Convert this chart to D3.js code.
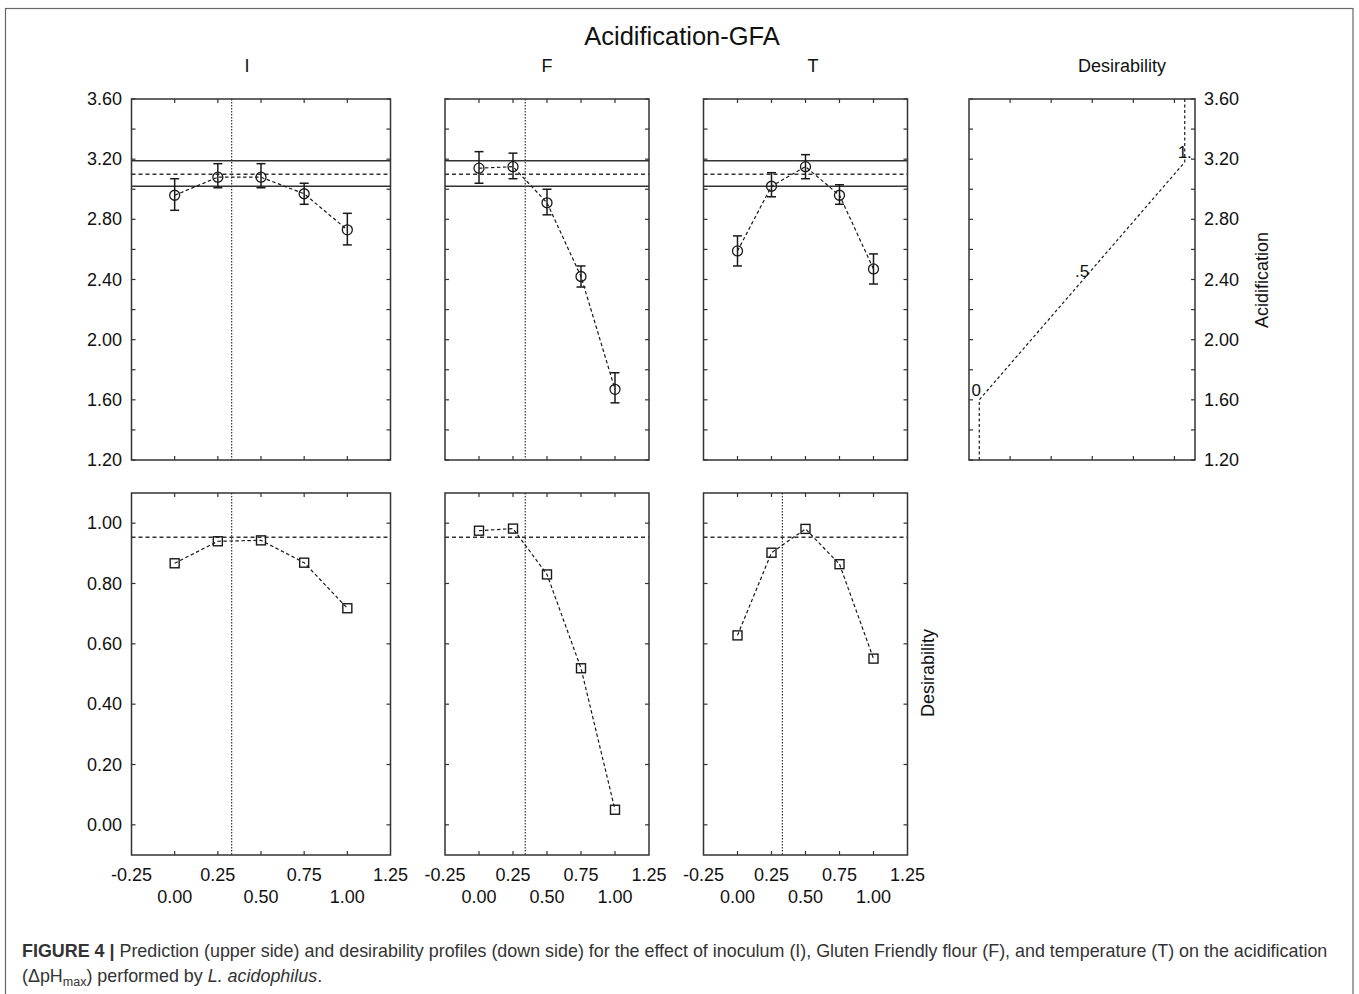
<!DOCTYPE html>
<html>
<head>
<meta charset="utf-8">
<script src="https://cdn.jsdelivr.net/npm/d3@7"></script>
<style>
  html, body { margin: 0; padding: 0; background: #fff; }
  svg { display: block; font-family: "Liberation Sans", Arial, sans-serif; }
</style>
</head>
<body>
<svg id="chart" width="1359" height="994"></svg>
<script>
// ---------------- data ----------------
const factors = ["I", "F", "T"];
const xLevels = [0, 0.25, 0.5, 0.75, 1.0];
const currentX = [0.33, 0.34, 0.33];
const showTopCurrent = [true, true, false];

const acidI = [2.96, 3.08, 3.08, 2.97, 2.73];
const acidILo = [2.86, 3.01, 3.01, 2.90, 2.63];
const acidIHi = [3.07, 3.17, 3.17, 3.04, 2.84];

const acidF = [3.14, 3.15, 2.91, 2.42, 1.67];
const acidFLo = [3.04, 3.07, 2.83, 2.35, 1.58];
const acidFHi = [3.25, 3.24, 3.00, 2.49, 1.78];

const acidT = [2.59, 3.02, 3.15, 2.96, 2.47];
const acidTLo = [2.49, 2.95, 3.07, 2.90, 2.37];
const acidTHi = [2.69, 3.11, 3.23, 3.03, 2.57];

const desI = [0.867, 0.940, 0.943, 0.869, 0.718];
const desF = [0.975, 0.982, 0.830, 0.519, 0.050];
const desT = [0.628, 0.902, 0.981, 0.864, 0.551];

const predicted = 3.10, predLo = 3.02, predHi = 3.19;
const overallDes = 0.953;

// desirability function (acidification -> desirability)
const dfAcid = [1.2, 1.6, 3.18, 3.6];
const dfDes = [0, 0, 1, 1];
const dfLabels = [{d: 0, a: 1.6, t: "0"}, {d: 0.5, a: 2.39, t: ".5"}, {d: 1, a: 3.18, t: "1."}];
const dfTicks = [0.15, 0.35, 0.55, 0.75, 0.95];

const acidTicks = [1.2, 1.6, 2.0, 2.4, 2.8, 3.2, 3.6];
const desTicks = [0, 0.2, 0.4, 0.6, 0.8, 1.0];
const xTickRow1 = [-0.25, 0.25, 0.75, 1.25];
const xTickRow2 = [0, 0.5, 1.0];

const acidSeries = [acidI, acidF, acidT];
const acidLoSeries = [acidILo, acidFLo, acidTLo];
const acidHiSeries = [acidIHi, acidFHi, acidTHi];
const desSeries = [desI, desF, desT];

// ---------------- layout ----------------
const svg = d3.select("#chart");
const ink = "#1a1a1a";
const panelX = [[131.5, 390.5], [445, 649], [703.5, 907.5]];
const titleX = [247, 547, 813];
const topY = [99, 460], botY = [493, 855];
const dPanelX = [969, 1195];
const fmt = v => v.toFixed(2);

const yAcid = d3.scaleLinear().domain([1.2, 3.6]).range([topY[1], topY[0]]);
const yDes = d3.scaleLinear().domain([-0.1, 1.1]).range([botY[1], botY[0]]);
const minorAcid = d3.range(1.2, 3.61, 0.2);
const minorDes = d3.range(0, 1.01, 0.2);

// outer frame
svg.append("rect").attr("x", 5.5).attr("y", 8.5).attr("width", 1347.5).attr("height", 1000)
  .attr("fill", "none").attr("stroke", "#666").attr("stroke-width", 1.2);

// title
svg.append("text").attr("x", 682).attr("y", 45).attr("text-anchor", "middle")
  .attr("font-size", 25.5).attr("fill", "#111").text("Acidification-GFA");

function frame(g, x0, x1, y0, y1) {
  g.append("rect").attr("x", x0).attr("y", y0).attr("width", x1 - x0).attr("height", y1 - y0)
    .attr("fill", "none").attr("stroke", "#333").attr("stroke-width", 1.5);
}
function ticksInside(g, xs, ys, x0, x1, y0, y1) {
  const L = 4;
  xs.forEach(x => {
    g.append("line").attr("x1", x).attr("x2", x).attr("y1", y0).attr("y2", y0 + L).attr("stroke", "#333").attr("stroke-width", 1.2);
    g.append("line").attr("x1", x).attr("x2", x).attr("y1", y1).attr("y2", y1 - L).attr("stroke", "#333").attr("stroke-width", 1.2);
  });
  ys.forEach(y => {
    g.append("line").attr("x1", x0).attr("x2", x0 + L).attr("y1", y).attr("y2", y).attr("stroke", "#333").attr("stroke-width", 1.2);
    g.append("line").attr("x1", x1).attr("x2", x1 - L).attr("y1", y).attr("y2", y).attr("stroke", "#333").attr("stroke-width", 1.2);
  });
}

factors.forEach((f, i) => {
  const [x0, x1] = panelX[i];
  const xs = d3.scaleLinear().domain([-0.25, 1.25]).range([x0, x1]);
  const g = svg.append("g");

  // panel title
  g.append("text").attr("x", titleX[i]).attr("y", 72).attr("text-anchor", "middle")
    .attr("font-size", 18).attr("fill", "#111").text(f);

  // ---- top panel ----
  [predHi, predLo].forEach(v => g.append("line").attr("x1", x0).attr("x2", x1)
    .attr("y1", yAcid(v)).attr("y2", yAcid(v)).attr("stroke", "#333").attr("stroke-width", 1.5));
  g.append("line").attr("x1", x0).attr("x2", x1).attr("y1", yAcid(predicted)).attr("y2", yAcid(predicted))
    .attr("stroke", "#333").attr("stroke-width", 1.5).attr("stroke-dasharray", "4,3");
  if (showTopCurrent[i]) {
    g.append("line").attr("x1", xs(currentX[i])).attr("x2", xs(currentX[i]))
      .attr("y1", topY[0]).attr("y2", topY[1]).attr("stroke", "#333").attr("stroke-width", 1.2).attr("stroke-dasharray", "1.5,1.5");
  }
  const line = d3.line().x(d => xs(d[0])).y(d => d[1]);
  g.append("path").datum(xLevels.map((x, k) => [x, yAcid(acidSeries[i][k])]))
    .attr("d", line).attr("fill", "none").attr("stroke", ink).attr("stroke-width", 1.2).attr("stroke-dasharray", "3.5,2.5");
  xLevels.forEach((x, k) => {
    const cx = xs(x);
    const lo = yAcid(acidLoSeries[i][k]), hi = yAcid(acidHiSeries[i][k]);
    g.append("line").attr("x1", cx).attr("x2", cx).attr("y1", lo).attr("y2", hi).attr("stroke", ink).attr("stroke-width", 1.5);
    [lo, hi].forEach(y => g.append("line").attr("x1", cx - 4.5).attr("x2", cx + 4.5).attr("y1", y).attr("y2", y)
      .attr("stroke", ink).attr("stroke-width", 1.5));
    g.append("circle").attr("cx", cx).attr("cy", yAcid(acidSeries[i][k])).attr("r", 5)
      .attr("fill", "none").attr("stroke", ink).attr("stroke-width", 1.3);
  });
  frame(g, x0, x1, topY[0], topY[1]);
  ticksInside(g, xLevels.map(xs), minorAcid.map(yAcid), x0, x1, topY[0], topY[1]);

  // ---- bottom panel ----
  g.append("line").attr("x1", x0).attr("x2", x1).attr("y1", yDes(overallDes)).attr("y2", yDes(overallDes))
    .attr("stroke", "#333").attr("stroke-width", 1.5).attr("stroke-dasharray", "4,3");
  g.append("line").attr("x1", xs(currentX[i])).attr("x2", xs(currentX[i]))
    .attr("y1", botY[0]).attr("y2", botY[1]).attr("stroke", "#333").attr("stroke-width", 1.2).attr("stroke-dasharray", "1.5,1.5");
  g.append("path").datum(xLevels.map((x, k) => [x, yDes(desSeries[i][k])]))
    .attr("d", line).attr("fill", "none").attr("stroke", ink).attr("stroke-width", 1.2).attr("stroke-dasharray", "3.5,2.5");
  xLevels.forEach((x, k) => {
    g.append("rect").attr("x", xs(x) - 4.5).attr("y", yDes(desSeries[i][k]) - 4.5)
      .attr("width", 9).attr("height", 9).attr("fill", "none").attr("stroke", ink).attr("stroke-width", 1.4);
  });
  frame(g, x0, x1, botY[0], botY[1]);
  ticksInside(g, xLevels.map(xs), minorDes.map(yDes), x0, x1, botY[0], botY[1]);

  // x tick labels
  xTickRow1.forEach(v => g.append("text").attr("x", xs(v)).attr("y", 881).attr("text-anchor", "middle")
    .attr("font-size", 18).attr("fill", "#111").text(fmt(v)));
  xTickRow2.forEach(v => g.append("text").attr("x", xs(v)).attr("y", 903).attr("text-anchor", "middle")
    .attr("font-size", 18).attr("fill", "#111").text(fmt(v)));
});

// left y labels
acidTicks.forEach(v => svg.append("text").attr("x", 122).attr("y", yAcid(v) + 6).attr("text-anchor", "end")
  .attr("font-size", 18).attr("fill", "#111").text(fmt(v)));
desTicks.forEach(v => svg.append("text").attr("x", 122).attr("y", yDes(v) + 6).attr("text-anchor", "end")
  .attr("font-size", 18).attr("fill", "#111").text(fmt(v)));

// ---- desirability function panel ----
const xdf = d3.scaleLinear().domain([-0.05, 1.05]).range(dPanelX);
const gd = svg.append("g");
gd.append("text").attr("x", 1122).attr("y", 72).attr("text-anchor", "middle").attr("font-size", 18)
  .attr("fill", "#111").text("Desirability");
gd.append("path").datum(dfAcid.map((a, k) => [dfDes[k], a]))
  .attr("d", d3.line().x(d => xdf(d[0])).y(d => yAcid(d[1])))
  .attr("fill", "none").attr("stroke", ink).attr("stroke-width", 1.2).attr("stroke-dasharray", "3,2.5");
dfLabels.forEach(l => gd.append("text").attr("x", xdf(l.d) - (l.d === 0 ? 3 : 0)).attr("y", yAcid(l.a) - 4)
  .attr("text-anchor", "middle").attr("font-size", 17).attr("fill", "#111").text(l.t));
frame(gd, dPanelX[0], dPanelX[1], topY[0], topY[1]);
ticksInside(gd, dfTicks.map(xdf), minorAcid.map(yAcid), dPanelX[0], dPanelX[1], topY[0], topY[1]);
acidTicks.forEach(v => gd.append("text").attr("x", 1204).attr("y", yAcid(v) + 6).attr("text-anchor", "start")
  .attr("font-size", 18).attr("fill", "#111").text(fmt(v)));
gd.append("text").attr("transform", "translate(1268,280) rotate(-90)").attr("text-anchor", "middle")
  .attr("font-size", 18).attr("fill", "#111").text("Acidification");
svg.append("text").attr("transform", "translate(934,673) rotate(-90)").attr("text-anchor", "middle")
  .attr("font-size", 18).attr("fill", "#111").text("Desirability");

// ---- caption ----
const cap = svg.append("text").attr("x", 22).attr("y", 957).attr("font-size", 17.9).attr("fill", "#333");
cap.append("tspan").attr("font-weight", "bold").text("FIGURE 4 | ");
cap.append("tspan").text("Prediction (upper side) and desirability profiles (down side) for the effect of inoculum (I), Gluten Friendly flour (F), and temperature (T) on the acidification");
const cap2 = svg.append("text").attr("x", 22).attr("y", 982).attr("font-size", 17.9).attr("fill", "#333");
cap2.append("tspan").text("(\u0394pH");
cap2.append("tspan").attr("font-size", 12.5).attr("dy", 4).text("max");
cap2.append("tspan").attr("dy", -4).text(") performed by ");
cap2.append("tspan").attr("font-style", "italic").text("L. acidophilus");
cap2.append("tspan").text(".");
</script>
</body>
</html>
